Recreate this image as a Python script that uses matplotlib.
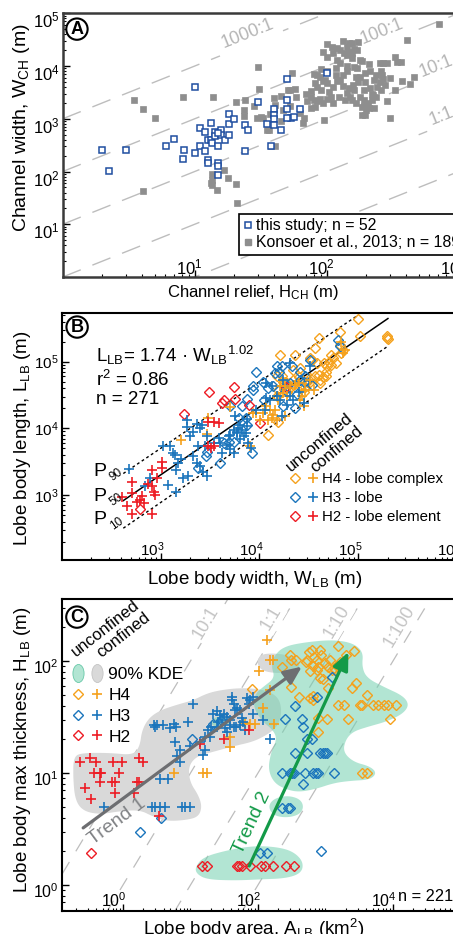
import numpy as np
import matplotlib
matplotlib.use("Agg")
import matplotlib.pyplot as plt
from matplotlib.lines import Line2D
from matplotlib.legend_handler import HandlerTuple
from matplotlib.path import Path
from matplotlib.transforms import ScaledTranslation
from matplotlib.ticker import FixedLocator, LogLocator, NullFormatter, FuncFormatter

plt.rcParams['font.family'] = ['Liberation Sans', 'DejaVu Sans']
plt.rcParams['mathtext.fontset'] = 'custom'
plt.rcParams['mathtext.rm'] = 'Liberation Sans'
plt.rcParams['mathtext.it'] = 'Liberation Sans:italic'
plt.rcParams['mathtext.bf'] = 'Liberation Sans:bold'

# ------------------------------------------------------------------
# Panel A data: (log10 channel relief H [m], log10 channel width W [m])
# ------------------------------------------------------------------
a_this_study = [(0.30,2.40),(0.48,2.40),(0.35,2.01),(1.00,3.61),(0.78,2.48),(0.84,2.61),(0.91,2.23),
    (0.92,2.40),(1.00,2.36),(1.04,2.82),(1.04,2.48),(1.08,2.74),(1.08,2.38),(1.12,2.92),(1.10,2.60),
    (1.12,2.60),(1.13,2.54),(1.15,2.74),(1.15,2.68),(1.10,2.22),(1.10,2.17),(1.18,2.48),(1.18,2.16),
    (1.18,2.10),(1.18,1.94),(1.20,2.79),(1.20,2.70),(1.23,2.60),(1.26,3.09),(1.26,2.90),(1.26,2.69),
    (1.30,3.00),(1.38,2.88),(1.40,2.78),(1.38,2.39),(1.48,3.31),(1.55,2.91),(1.58,2.48),(1.60,3.19),
    (1.60,3.08),(1.60,3.00),(1.60,2.88),(1.65,2.79),(1.70,3.75),(1.70,3.35),(1.70,3.19),(1.73,3.01),
    (1.75,3.04),(1.80,3.19),(2.00,3.86),(1.18,2.73),(1.70,3.01)]
a_konsoer = [(0.54,3.36),(0.61,3.18),(0.70,3.01),(0.61,1.64),(0.91,3.41),(1.13,1.96),(1.13,1.84),
    (1.12,1.78),(1.13,1.74),(1.17,1.65),(1.22,2.02),(1.25,1.88),(1.31,1.77),(1.32,1.40),(1.58,2.49),
    (1.14,3.41),(1.31,3.31),(1.38,3.36),(1.37,3.16),(1.37,3.06),(1.48,3.99),(1.49,3.56),(1.50,3.04),
    (1.52,3.01),(1.57,3.09),(1.56,2.78),(1.61,3.26),(1.60,3.17),(1.61,2.49),(1.65,3.44),(1.67,3.17),
    (1.65,2.95),(1.71,3.54),(1.72,3.54),(1.74,3.86),(1.76,3.57),(1.77,3.41),(1.80,3.11),(1.82,2.92),
    (1.84,3.47),(1.85,3.33),(1.88,3.20),(1.88,3.52),(1.91,3.67),(1.93,3.83),(1.90,3.85),(1.95,3.79),
    (1.97,3.71),(1.96,3.95),(1.97,4.26),(2.00,4.41),(2.00,4.17),(2.02,3.51),(2.03,3.42),(1.98,2.97),
    (1.95,3.38),(1.93,3.33),(1.91,3.23),(1.96,3.55),(1.99,3.74),(2.00,3.67),(2.04,4.37),(2.05,4.24),
    (2.07,3.96),(2.08,4.12),(2.08,3.71),(2.10,3.74),(2.12,4.48),(2.15,4.37),(2.15,4.21),(2.17,4.44),
    (2.19,4.43),(2.21,4.32),(2.23,4.31),(2.24,4.46),(2.10,4.05),(2.12,3.83),(2.15,3.90),(2.17,3.58),
    (2.18,3.42),(2.20,3.64),(2.21,3.55),(2.22,3.79),(2.25,4.12),(2.27,4.09),(2.29,3.69),(2.29,3.86),
    (2.32,4.04),(2.33,3.58),(2.34,3.35),(2.36,3.74),(2.37,3.83),(2.38,3.60),(2.40,4.05),(2.41,3.90),
    (2.42,3.83),(2.43,3.76),(2.43,4.05),(2.44,3.64),(2.46,4.05),(2.48,3.77),(2.48,3.01),(2.52,4.18),
    (2.53,4.07),(2.56,4.08),(2.57,3.72),(2.61,4.50),(2.63,3.66),(2.66,3.79),(2.85,4.80),(2.27,3.23),
    (2.28,3.36),(2.31,3.30),(2.30,3.17),(2.32,3.20),(2.36,3.20),(2.27,3.07),(2.29,3.07),(2.25,3.42),
    (2.00,3.38),(2.05,3.60),(2.09,3.42),(2.14,3.35),(2.15,3.49),(2.07,3.83),(2.13,4.24),(2.17,4.27),
    (2.19,4.24),(2.08,4.34),(2.10,4.31),(1.97,3.30),(1.90,3.36),(1.88,3.41),(2.19,4.15),(2.21,3.99),
    (2.23,3.96),(2.34,3.47),(2.37,3.42),(2.41,3.55),(2.33,3.90),(2.25,3.80),(2.28,3.55),(2.19,3.36),
    (2.22,3.30),(2.05,3.30),(2.12,3.62),(2.24,3.70),(1.93,3.60),(2.28,3.25),(2.35,3.45),(2.40,3.70),
    (2.00,3.90),(2.15,4.00),(1.60,3.40),(1.45,3.25),(1.72,3.25),(1.47,3.01),(1.55,2.79),(1.83,3.02),
    (2.46,3.34),(2.52,3.55)]
a_ratios = [1000, 100, 10, 1, 0.1]
a_ratio_labels = ['1000:1', '100:1', '10:1', '1:1']
a_ratio_label_pos = [(1.40, 4.62), (2.42, 4.65), (2.83, 3.99), (2.87, 3.04)]

# ------------------------------------------------------------------
# Panel B data: (log10 lobe width W [m], log10 lobe length L [m])
# ------------------------------------------------------------------
b_h4_unconfined = [(4.09,3.90),(4.21,5.10),(4.19,4.10),(4.18,4.48),(4.19,4.58),(4.18,4.78),(4.23,4.78),
    (4.24,4.70),(4.28,4.68),(4.32,4.62),(4.34,4.65),(4.36,5.10),(4.40,4.77),(4.41,4.90),(4.45,4.55),
    (4.46,4.62),(4.48,4.70),(4.50,4.68),(4.51,5.05),(4.53,5.03),(4.56,5.20),(4.58,4.98),(4.60,5.35),
    (4.61,4.68),(4.65,4.98),(4.67,4.85),(4.67,4.78),(4.68,4.93),(4.70,5.00),(4.72,5.10),(4.73,4.95),
    (4.75,5.05),(4.78,4.98),(4.82,5.45),(4.82,5.25),(4.83,5.13),(4.85,5.18),(5.00,5.64),(5.02,5.38),
    (5.29,5.38),(5.30,5.34),(5.29,5.36),(4.60,4.80),(4.56,4.78),(4.51,4.75),(4.41,4.63),(4.34,4.73),
    (4.28,4.55),(4.26,4.70),(4.34,4.88),(4.61,4.73),(4.64,4.77)]
b_h4_confined = [(3.70,4.32),(3.48,4.15),(3.47,3.92),(3.21,3.83),(3.91,3.73),(3.94,4.23),(3.97,4.23),
    (4.01,4.13),(4.04,4.23),(4.07,4.33),(4.09,4.13),(4.11,4.28),(4.13,4.15),(4.14,4.20),(4.16,4.28),
    (4.19,4.43),(4.21,4.63),(4.24,4.53),(4.26,4.63),(4.28,4.48),(4.31,4.60),(4.36,4.65),(4.40,4.68),
    (4.41,4.43),(4.43,4.48),(4.45,4.33),(4.46,4.58),(4.51,4.73),(4.55,4.58),(4.18,4.13),(4.26,4.18),
    (4.85,5.13),(4.87,5.18),(4.83,5.30)]
b_h3_unconfined = [(3.38,3.40),(3.46,3.58),(3.47,3.65),(3.60,3.48),(3.64,3.78),(3.69,3.80),(3.74,3.80),
    (3.79,4.15),(3.70,4.33),(3.82,4.33),(3.87,4.44),(3.86,4.15),(3.93,3.63),(3.88,4.05),(3.94,4.63),
    (3.97,4.85),(3.94,4.58),(4.04,4.70),(4.05,4.43),(4.09,4.60),(4.14,4.64),(4.16,4.83),(4.18,4.93),
    (4.20,4.85),(4.23,4.93),(4.24,4.33),(4.26,4.57),(4.28,4.64),(4.31,4.68),(4.33,4.93),(4.36,4.30),
    (4.38,4.52),(4.41,4.73),(4.41,4.85),(4.45,4.70),(4.46,4.78),(4.51,5.02),(4.53,4.65),(4.80,5.33),
    (4.82,5.23)]
b_h3_confined = [(2.68,3.39),(3.02,3.74),(3.10,3.74),(3.13,3.63),(3.15,3.60),(3.18,3.48),(3.16,3.37),
    (3.21,3.54),(3.23,3.25),(3.16,3.05),(3.27,4.02),(3.30,3.88),(3.33,3.95),(3.37,4.06),(3.40,4.00),
    (3.28,3.28),(3.33,3.58),(3.37,3.48),(3.40,3.44),(3.43,3.35),(3.47,3.29),(3.54,3.78),(3.59,3.85),
    (3.62,3.63),(3.67,3.75),(3.70,3.90),(3.74,3.98),(3.78,4.01),(3.80,4.05),(3.86,3.93),(3.87,4.03),
    (3.87,4.14),(3.82,3.98),(3.70,3.69),(3.74,3.63),(3.77,3.93),(3.80,3.84),(3.84,3.88),(3.89,3.78),
    (3.92,3.70),(3.97,4.28),(4.06,4.28),(4.07,4.45),(4.11,4.43),(4.18,4.48),(4.21,4.43),(4.23,4.18),
    (4.28,4.35),(4.31,4.48),(4.34,4.43),(4.40,4.54),(4.45,4.38),(4.51,4.93),(4.07,4.68),(4.13,4.63),
    (4.24,4.73),(4.31,4.98),(3.08,3.15),(2.84,3.13),(2.89,3.25),(3.27,4.13),(3.42,4.05),(3.38,3.74),
    (3.47,3.88),(3.45,3.73),(3.60,3.78),(3.69,3.89),(3.77,3.95),(3.75,4.18)]
b_h2_unconfined = [(3.24,4.22),(3.49,4.55),(3.62,4.38),(3.64,4.43),(3.74,4.62),(3.75,4.44),(3.90,4.35),
    (4.01,4.08),(4.27,4.62),(2.79,2.79)]
b_h2_confined = [(2.61,2.97),(2.66,2.84),(2.71,3.19),(2.71,3.03),(2.76,2.89),(2.79,2.93),(2.81,2.98),
    (2.83,2.88),(2.71,2.72),(2.91,2.72),(2.91,3.13),(2.93,3.05),(2.94,3.00),(3.01,3.49),(3.01,3.41),
    (2.96,3.25),(2.87,3.16),(3.48,3.73),(3.51,3.71),(3.54,3.73),(3.48,4.09),(3.54,4.09),(3.59,4.08),
    (2.91,3.38)]
# fit L = a * W^b and percentile bands
b_fit = {'P50': (1.74, 1.02), 'P90': (5.0, 1.00), 'P10': (0.67, 1.02)}
b_fit_width_range = {'P50': (420, 2.0e5), 'P90': (420, 1.0e5), 'P10': (420, 2.0e5)}

# ------------------------------------------------------------------
# Panel C data: (log10 lobe area A [km2], log10 max thickness H [m])
# ------------------------------------------------------------------
c_h4_unconfined = [(2.35,1.95),(2.47,2.05),(2.49,2.01),(2.57,2.01),(2.71,1.99),(2.72,2.01),(2.75,2.08),
    (2.80,2.10),(2.83,2.04),(2.87,2.01),(2.92,2.10),(2.94,2.05),(2.99,1.98),(3.04,1.95),(3.09,1.92),
    (3.12,1.94),(3.14,1.92),(3.18,2.13),(3.31,2.05),(3.42,2.09),(2.82,1.96),(2.87,1.92),(2.92,1.85),
    (2.96,1.84),(2.89,1.95),(3.06,2.01),(3.22,1.99),(1.91,1.75),(2.49,1.77),(2.61,1.68),(2.82,1.69),
    (2.81,1.65),(2.77,1.67),(3.04,1.76),(3.39,1.76),(3.45,1.80),(3.61,1.70),(3.19,1.61),(3.27,1.61),
    (3.51,1.61),(3.54,1.61),(3.71,1.61),(3.78,1.61),(3.86,1.61),(3.93,1.61),(4.05,1.61),(3.34,1.48),
    (3.02,1.48),(2.89,1.49),(3.95,1.48),(2.89,1.37),(3.54,1.00),(3.61,1.00),(3.17,1.96),(2.77,1.91)]
c_h4_confined = [(2.14,2.19),(2.18,2.01),(2.22,2.01),(2.02,1.91),(2.08,1.58),(2.24,1.44),(1.96,1.44),
    (1.88,1.44),(1.81,1.45),(1.59,1.32),(1.58,1.23),(1.19,1.00),(1.24,1.00),(0.75,1.00),(2.18,1.74)]
c_h3_unconfined = [(3.09,1.86),(2.87,1.68),(2.55,1.60),(2.40,1.48),(2.65,1.48),(2.66,1.41),(2.72,1.30),
    (2.80,1.30),(2.55,1.18),(2.72,1.18),(2.92,1.18),(2.96,1.18),(2.99,1.18),(3.02,1.18),(2.35,1.00),
    (2.47,1.00),(2.51,1.00),(2.53,1.00),(2.70,1.00),(2.82,1.00),(2.86,1.00),(2.89,1.00),(3.13,1.00),
    (2.67,0.90),(2.35,0.69),(2.45,0.69),(2.47,0.69),(2.03,0.29),(2.13,0.29),(2.94,0.30),(0.25,0.47),
    (0.57,0.60),(1.02,1.30),(1.34,1.44),(1.45,1.47),(1.49,1.49)]
c_h3_confined = [(0.46,1.43),(0.50,1.43),(0.48,1.41),(0.60,1.43),(0.70,1.40),(0.75,1.44),(0.79,1.41),
    (0.97,1.46),(1.04,1.62),(1.29,1.32),(1.34,1.53),(1.39,1.55),(1.44,1.52),(1.46,1.47),(1.49,1.53),
    (1.54,1.50),(1.59,1.47),(1.61,1.65),(1.62,1.68),(1.64,1.62),(1.69,1.58),(1.73,1.56),(1.76,1.49),
    (1.81,1.38),(1.83,1.67),(1.86,1.62),(1.88,1.65),(1.93,1.68),(1.93,1.53),(2.08,1.47),(2.18,1.30),
    (1.59,1.43),(1.51,1.40),(1.54,1.37),(1.64,1.41),(1.68,1.41),(1.73,1.43),(1.78,1.46),(1.39,1.41),
    (1.26,1.38),(1.22,1.32),(1.14,1.28),(0.99,1.24),(0.84,1.21),(0.80,1.15),(0.84,1.10),(1.19,1.16),
    (1.22,1.21),(0.67,0.95),(0.55,0.95),(0.43,0.70),(0.47,0.70),(0.55,0.70),(0.62,0.70),(0.87,0.70),
    (0.92,0.70),(0.99,0.70),(-0.28,0.70),(0.77,1.28),(1.31,1.41),(1.66,1.56),(1.41,1.46)]
c_h2_unconfined = [(-0.47,0.29),(1.17,0.17),(1.24,0.17),(1.69,0.17),(1.72,0.17),(1.76,0.17),(1.88,0.17),
    (2.05,0.17),(2.10,0.17),(2.22,0.17),(2.41,0.17),(2.53,0.17)]
c_h2_confined = [(-0.64,1.10),(-0.49,1.13),(-0.40,1.10),(-0.15,1.10),(-0.02,1.10),(0.23,1.13),(0.29,1.10),
    (-0.43,1.00),(-0.34,1.00),(-0.32,1.00),(-0.06,1.00),(-0.34,0.92),(-0.17,0.92),(-0.12,0.92),(0.21,0.92),
    (0.24,0.92),(-0.56,0.87),(-0.12,0.82),(0.17,0.82),(-0.47,0.77),(1.14,1.26),(1.49,1.30),(1.87,1.38),
    (0.54,0.62)]
# 90% KDE outlines (log10 A, log10 H)
c_kde_confined = [
    [(-0.73,1.15),(-0.59,1.18),(-0.19,1.18),(0.15,1.16),(0.25,1.24),(0.28,1.38),(0.38,1.49),(0.55,1.56),
     (0.80,1.61),(1.04,1.65),(1.24,1.71),(1.44,1.74),(1.73,1.76),(2.03,1.75),(2.23,1.71),(2.33,1.64),
     (2.35,1.52),(2.28,1.41),(2.13,1.34),(1.93,1.28),(1.64,1.24),(1.34,1.19),(1.09,1.15),(0.97,1.06),
     (0.99,0.92),(1.12,0.80),(1.17,0.70),(1.12,0.61),(0.94,0.58),(0.65,0.57),(0.45,0.61),(0.25,0.67),
     (-0.04,0.66),(-0.34,0.63),(-0.59,0.66),(-0.71,0.76),(-0.74,0.97)],
    [(1.99,2.01),(2.05,2.06),(2.23,2.07),(2.47,2.05),(2.62,1.99),(2.60,1.92),(2.38,1.89),(2.13,1.90),
     (2.01,1.94)]]
c_kde_unconfined = [
    [(2.23,2.04),(2.38,2.13),(2.72,2.17),(3.12,2.19),(3.41,2.16),(3.56,2.08),(3.54,1.95),(3.61,1.85),
     (3.86,1.77),(4.15,1.69),(4.24,1.61),(4.15,1.53),(3.91,1.46),(3.61,1.41),(3.41,1.37),(3.30,1.30),
     (3.26,1.19),(3.41,1.10),(3.66,1.06),(3.76,1.00),(3.66,0.94),(3.36,0.93),(3.12,0.91),(2.87,0.86),
     (2.62,0.83),(2.43,0.85),(2.24,0.91),(2.15,1.03),(2.19,1.18),(2.28,1.30),(2.23,1.38),(2.05,1.47),
     (1.93,1.59),(1.96,1.71),(2.08,1.77),(2.25,1.85),(2.20,1.95)],
    [(2.15,0.70),(2.23,0.77),(2.43,0.80),(2.62,0.77),(2.68,0.70),(2.62,0.63),(2.43,0.60),(2.23,0.62)],
    [(1.07,0.16),(1.19,0.25),(1.54,0.31),(1.93,0.35),(2.28,0.34),(2.52,0.30),(2.67,0.21),(2.65,0.11),
     (2.43,0.06),(2.03,0.05),(1.64,0.04),(1.24,0.05),(1.09,0.10)],
    [(1.29,1.47),(1.41,1.51),(1.56,1.49),(1.59,1.44),(1.46,1.41),(1.33,1.42)]]
c_ratios = [10, 1, 0.1, 0.01]
c_ratio_labels = ['10:1', '1:1', '1:10', '1:100']
c_ratio_label_pos = [(1.22, 2.34), (2.20, 2.38), (3.17, 2.35), (4.10, 2.31)]
c_trend1 = [(-0.59, 0.51), (2.65, 1.95)]   # start, end (log10 A, log10 H)
c_trend2 = [(1.87, 0.17), (3.34, 2.08)]

# ------------------------------------------------------------------
ORANGE = '#F5A11C'
BLUE = '#1B75BC'
RED = '#ED1C24'
A_BLUE = '#1F4EA1'
A_GRAY = '#8E8E8E'
RATIO_GRAY = '#BDBDBD'
KDE_GRAY = '#D9D9D9'
KDE_GREEN = (0.45, 0.82, 0.69, 0.55)
TREND1 = '#6D6E71'
TREND2 = '#139A48'

W, H = 453, 934
fig = plt.figure(figsize=(W / 100, H / 100), dpi=100)


def px_axes(left, right, top, bottom):
    return fig.add_axes([left / W, 1 - bottom / H, (right - left) / W, (bottom - top) / H])


def decade_fmt(v, pos):
    e = int(round(np.log10(v)))
    return r'$10^{%d}$' % e


def style_axes(ax, spine_color='black', spine_lw=1.5):
    for s in ax.spines.values():
        s.set_color(spine_color)
        s.set_linewidth(spine_lw)
    ax.spines['right'].set_visible(False)
    ax.tick_params(which='both', direction='in', top=False, right=False)
    ax.tick_params(which='major', length=5, width=1)
    ax.tick_params(which='minor', length=2.5, width=0.8)
    ax.xaxis.set_minor_formatter(NullFormatter())
    ax.yaxis.set_minor_formatter(NullFormatter())


def chaikin(pts, n=3):
    p = np.asarray(pts, float)
    for _ in range(n):
        nxt = np.roll(p, -1, axis=0)
        q = 0.75 * p + 0.25 * nxt
        r = 0.25 * p + 0.75 * nxt
        p = np.empty((2 * len(q), 2))
        p[0::2] = q
        p[1::2] = r
    return p


def pts(lst):
    arr = np.asarray(lst, float)
    return 10 ** arr[:, 0], 10 ** arr[:, 1]


def panel_label(ax, letter, x, y):
    ax.text(x, y, letter, transform=ax.transAxes, ha='center', va='center', fontsize=13,
            fontweight='bold', zorder=10,
            bbox=dict(boxstyle='circle,pad=0.12', fc='white', ec='black', lw=1.5))

# ======================= Panel A =======================
axA = px_axes(62.7, 458.7, 13.3, 277)
axA.set_xscale('log'); axA.set_yscale('log')
axA.set_xlim(1, 1000); axA.set_ylim(1, 1e5)
style_axes(axA, '#3a3a3a', 1.8)
hline = np.array([1.0, 1000.0])
for k in a_ratios:
    axA.plot(hline, k * hline, color=RATIO_GRAY, lw=1.0, dashes=(14, 9), zorder=1)
for lab, (lx, ly) in zip(a_ratio_labels, a_ratio_label_pos):
    axA.text(10 ** lx, 10 ** ly, lab, color='#B5B5B5', fontsize=13, rotation=21.8,
             ha='center', va='center', zorder=1.5,
             bbox=dict(boxstyle='square,pad=0.35', fc='white', ec='none'))
kx, ky = pts(a_konsoer)
axA.plot(kx, ky, ls='none', marker='s', ms=4, mfc=A_GRAY, mec=A_GRAY, mew=0.5, zorder=2)
tx, ty = pts(a_this_study)
axA.plot(tx, ty, ls='none', marker='s', ms=4, mfc='white', mec=A_BLUE, mew=1.1, zorder=3)
axA.xaxis.set_major_locator(FixedLocator([10, 100, 1000]))
axA.yaxis.set_major_locator(FixedLocator([10, 100, 1000, 1e4, 1e5]))
for axis in (axA.xaxis, axA.yaxis):
    axis.set_major_formatter(FuncFormatter(decade_fmt))
    axis.set_minor_locator(LogLocator(base=10, subs=np.arange(2, 10), numticks=100))
axA.tick_params(axis='x', which='major', labelsize=12, pad=-14)
axA.tick_params(axis='y', which='major', labelsize=12, pad=2)
axA.set_xlabel(r'Channel relief, H$_{\rm CH}$ (m)', fontsize=12)
axA.xaxis.set_label_coords(0.48, -0.023)
axA.set_ylabel(r'Channel width, W$_{\rm CH}$ (m)', fontsize=14)
axA.yaxis.set_label_coords(-0.077, 0.565)
legA = axA.legend([Line2D([], [], ls='none', marker='s', ms=4, mfc='white', mec=A_BLUE, mew=1.1),
                   Line2D([], [], ls='none', marker='s', ms=4, mfc=A_GRAY, mec=A_GRAY)],
                  ['this study; n = 52', 'Konsoer et al., 2013; n = 189'],
                  loc='lower left', bbox_to_anchor=(0.445, 0.083), fontsize=11.4, frameon=True,
                  fancybox=False, edgecolor='black', framealpha=1, borderpad=0.3,
                  handlelength=0.5, handletextpad=0.25, labelspacing=0.12, borderaxespad=0)
legA.get_frame().set_linewidth(1.2)
legA.set_zorder(6)
panel_label(axA, 'A', 0.036, 0.940)

# ======================= Panel B =======================
axB = px_axes(61.7, 457.0, 312.7, 560)
axB.set_xscale('log'); axB.set_yscale('log')
axB.set_xlim(100, 1e6); axB.set_ylim(10 ** 2.025, 10 ** 5.735)
style_axes(axB)
for key, ls in (('P90', (0, (2, 2))), ('P50', '-'), ('P10', (0, (2, 2)))):
    a, b = b_fit[key]
    wr = np.array(b_fit_width_range[key])
    axB.plot(wr, a * wr ** b, color='black', lw=1.1 if key == 'P50' else 1.0, ls=ls, zorder=2)
mk = dict(ls='none')
dia = dict(marker='D', ms=4.6, mfc='none', mew=1.0)
plus = dict(marker='+', ms=6.5, mew=1.2)
for data, col in ((b_h4_unconfined, ORANGE), (b_h3_unconfined, BLUE), (b_h2_unconfined, RED)):
    x, y = pts(data)
    axB.plot(x, y, mec=col, zorder=3, **mk, **dia)
for data, col in ((b_h4_confined, ORANGE), (b_h3_confined, BLUE), (b_h2_confined, RED)):
    x, y = pts(data)
    axB.plot(x, y, color=col, zorder=3, **mk, **plus)
axB.xaxis.set_major_locator(FixedLocator([1e3, 1e4, 1e5, 1e6]))
axB.yaxis.set_major_locator(FixedLocator([1e3, 1e4, 1e5]))
for axis in (axB.xaxis, axB.yaxis):
    axis.set_major_formatter(FuncFormatter(decade_fmt))
    axis.set_minor_locator(LogLocator(base=10, subs=np.arange(2, 10), numticks=100))
axB.tick_params(axis='x', which='major', labelsize=11, pad=-14)
axB.tick_params(axis='y', which='major', labelsize=11, pad=2)
axB.set_xlabel(r'Lobe body width, W$_{\rm LB}$ (m)', fontsize=13.5)
axB.xaxis.set_label_coords(0.489, -0.036)
axB.set_ylabel(r'Lobe body length, L$_{\rm LB}$ (m)', fontsize=13.5)
axB.yaxis.set_label_coords(-0.073, 0.493)
axB.text(0.087, 0.829, r'L$_{\rm LB}$= 1.74 · W$_{\rm LB}$$^{1.02}$', transform=axB.transAxes,
         fontsize=13.5, ha='left', va='center')
axB.text(0.087, 0.728, r'r$^2$ = 0.86', transform=axB.transAxes, fontsize=13.5, ha='left', va='center')
axB.text(0.087, 0.647, 'n = 271', transform=axB.transAxes, fontsize=13.5, ha='left', va='center')
for sub, yy in (('90', 0.357), ('50', 0.256), ('10', 0.162)):
    axB.text(0.097, yy, 'P', transform=axB.transAxes, fontsize=14, ha='center', va='center')
    axB.text(0.139, yy - 0.014, sub, transform=axB.transAxes, fontsize=8.5, rotation=35,
             ha='center', va='center')
axB.text(0.652, 0.475, 'unconfined', transform=axB.transAxes, fontsize=12, rotation=40,
         ha='center', va='center')
axB.text(0.695, 0.447, 'confined', transform=axB.transAxes, fontsize=12, rotation=40,
         ha='center', va='center')
handlesB = []
for col in (ORANGE, BLUE, RED):
    handlesB.append((Line2D([], [], mec=col, **mk, **dia), Line2D([], [], color=col, **mk, **plus)))
legB = axB.legend(handlesB, ['H4 - lobe complex', 'H3 - lobe', 'H2 - lobe element'],
                  handler_map={tuple: HandlerTuple(ndivide=None, pad=0.6)},
                  loc='upper left', bbox_to_anchor=(0.580, 0.354), frameon=False, fontsize=10.8,
                  handlelength=1.8, handletextpad=0.3, labelspacing=0.32, borderpad=0, borderaxespad=0)
panel_label(axB, 'B', 0.039, 0.942)

# ======================= Panel C =======================
axC = px_axes(61.7, 461.0, 599, 911)
axC.set_xscale('log'); axC.set_yscale('log')
axC.set_xlim(10 ** -0.908, 10 ** 5.008); axC.set_ylim(10 ** -0.232, 10 ** 2.554)
style_axes(axC)
aline = np.array([0.05, 2e5])
for k in c_ratios:
    axC.plot(aline, k * aline, color=RATIO_GRAY, lw=0.9, dashes=(11, 10), zorder=0.3)
for lab, (lx, ly) in zip(c_ratio_labels, c_ratio_label_pos):
    axC.text(10 ** lx, 10 ** ly, lab, color='#C4C4C4', fontsize=13, rotation=59,
             ha='center', va='center', zorder=0.4,
             bbox=dict(boxstyle='square,pad=0.1', fc='white', ec='none'))
for poly in c_kde_confined:
    p = chaikin(poly)
    axC.fill(10 ** p[:, 0], 10 ** p[:, 1], color=KDE_GRAY, lw=0, zorder=0.5)
for poly in c_kde_unconfined:
    p = chaikin(poly)
    axC.fill(10 ** p[:, 0], 10 ** p[:, 1], color=KDE_GREEN, lw=0, zorder=0.6)
for data, col in ((c_h4_unconfined, ORANGE), (c_h3_unconfined, BLUE), (c_h2_unconfined, RED)):
    x, y = pts(data)
    axC.plot(x, y, mec=col, zorder=3, **mk, **dia)
for data, col in ((c_h4_confined, ORANGE), (c_h3_confined, BLUE), (c_h2_confined, RED)):
    x, y = pts(data)
    axC.plot(x, y, color=col, zorder=3, **mk, **plus)
for tr, col in ((c_trend1, TREND1), (c_trend2, TREND2)):
    (x0, y0), (x1, y1) = tr
    axC.annotate('', xy=(10 ** x1, 10 ** y1), xytext=(10 ** x0, 10 ** y0), zorder=4,
                 arrowprops=dict(arrowstyle='-|>,head_length=0.9,head_width=0.4', color=col, lw=2.3,
                                 shrinkA=0, shrinkB=0, mutation_scale=12))
axC.text(10 ** -0.09, 10 ** 0.565, 'Trend 1', color='#808285', fontsize=14, rotation=36.5,
         ha='center', va='center', zorder=4)
axC.text(10 ** 1.916, 10 ** 0.551, 'Trend 2', color=TREND2, fontsize=14, rotation=65,
         ha='center', va='center', zorder=4)
axC.xaxis.set_major_locator(FixedLocator([1e0, 1e2, 1e4]))
axC.yaxis.set_major_locator(FixedLocator([1e0, 1e1, 1e2]))
for axis in (axC.xaxis, axC.yaxis):
    axis.set_major_formatter(FuncFormatter(decade_fmt))
axC.xaxis.set_minor_locator(LogLocator(base=10, subs=np.arange(1, 10), numticks=100))
axC.yaxis.set_minor_locator(LogLocator(base=10, subs=np.arange(2, 10), numticks=100))
axC.tick_params(axis='x', which='major', labelsize=11.5, pad=-14)
axC.tick_params(axis='y', which='major', labelsize=11.5, pad=2)
axC.set_xlabel(r'Lobe body area, A$_{\rm LB}$ (km$^2$)', fontsize=13.5)
axC.xaxis.set_label_coords(0.482, -0.019)
axC.set_ylabel(r'Lobe body max thickness, H$_{\rm LB}$ (m)', fontsize=13.5)
axC.yaxis.set_label_coords(-0.072, 0.516)
axC.text(0.843, 0.045, 'n = 221', transform=axC.transAxes, fontsize=11.8, ha='left', va='center')
axC.text(0.11, 0.905, 'unconfined', transform=axC.transAxes, fontsize=12, rotation=38,
         ha='center', va='center')
axC.text(0.155, 0.885, 'confined', transform=axC.transAxes, fontsize=12, rotation=38,
         ha='center', va='center')
circ = Path.unit_circle()
ell_marker = Path(circ.vertices * np.array([0.62, 1.0]), circ.codes)
handlesC = [(Line2D([], [], ls='none', marker=ell_marker, ms=13, mfc=KDE_GREEN, mec=(0.3, 0.75, 0.6, 0.8), mew=0.6),
             Line2D([], [], ls='none', marker=ell_marker, ms=13, mfc=KDE_GRAY, mec='#c4c4c4', mew=0.6))]
for col in (ORANGE, BLUE, RED):
    handlesC.append((Line2D([], [], mec=col, **mk, **dia), Line2D([], [], color=col, **mk, **plus)))
legC = axC.legend(handlesC, ['90% KDE', 'H4', 'H3', 'H2'],
                  handler_map={tuple: HandlerTuple(ndivide=None, pad=0.55)},
                  loc='upper left', bbox_to_anchor=(0.028, 0.783), frameon=False, fontsize=12.5,
                  handlelength=1.7, handletextpad=0.35, labelspacing=0.33, borderpad=0, borderaxespad=0)
panel_label(axC, 'C', 0.038, 0.942)

# shift tick labels slightly, as in the reference layout
fig.canvas.draw()
for ax, dx_px, dy_px in ((axA, -5, -6), (axB, -8, 0), (axC, -9, -5)):
    offx = ScaledTranslation(dx_px / 100, 0, fig.dpi_scale_trans)
    offy = ScaledTranslation(0, dy_px / 100, fig.dpi_scale_trans)
    for lab in ax.xaxis.get_majorticklabels():
        lab.set_transform(lab.get_transform() + offx)
    for lab in ax.yaxis.get_majorticklabels():
        lab.set_transform(lab.get_transform() + offy)

fig.savefig('out.png', dpi=100)
